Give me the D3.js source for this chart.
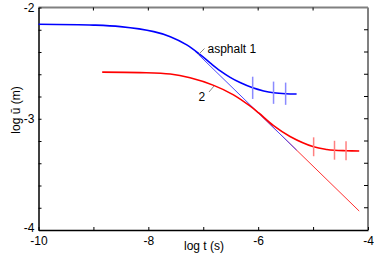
<!DOCTYPE html>
<html>
<head>
<meta charset="utf-8">
<script src="https://cdn.jsdelivr.net/npm/d3@7"></script>
<style>
  body { margin: 0; background: #fff; }
  svg text { font-family: "Liberation Sans", Arial, sans-serif; }
</style>
</head>
<body>
<div id="chart"></div>
<script>
const WIDTH = 374;
const HEIGHT = 255;

// asphalt 1 (blue)
const blueT = [-10, -9, -8.51, -7.9, -7.6, -7.3, -7.05, -6.87, -6.69, -6.51, -6.33, -6.1, -5.9, -5.72, -5.5, -5.3];
const blueU = [-2.151, -2.158, -2.172, -2.217, -2.262, -2.336, -2.426, -2.5, -2.57, -2.628, -2.675, -2.722, -2.75, -2.766, -2.775, -2.777];
const blueErrT = [-6.1, -5.72, -5.5];
const blueErrU = [-2.722, -2.766, -2.775];
const blueErr = 0.1;

// 2 (red)
const redT = [-8.84, -8.15, -7.6, -7.24, -6.81, -6.45, -6.15, -5.99, -5.72, -5.42, -4.99, -4.75, -4.61, -4.4, -4.16];
const redU = [-2.581, -2.585, -2.598, -2.632, -2.7, -2.785, -2.885, -2.948, -3.062, -3.159, -3.252, -3.276, -3.283, -3.287, -3.29];
const redErrT = [-4.99, -4.61, -4.4];
const redErrU = [-3.252, -3.283, -3.287];
const redErr = 0.085;

// short-time asymptote: blue segment, then red segment
const slopeBlueT = [-7.15, -5.3];
const slopeBlueU = [-2.393, -3.282];
const slopeRedT = [-6.0, -4.16];
const slopeRedU = [-2.946, -3.83];

const xTicks = [-10, -9, -8, -7, -6, -5, -4];
const xLabels = [-10, -8, -6, -4];
const yTicks = [-4, -3.8, -3.6, -3.4, -3.2, -3, -2.8, -2.6, -2.4, -2.2, -2];
const yLabels = [-4, -3, -2];

const svg = d3.select('#chart').append('svg').attr('width', WIDTH).attr('height', HEIGHT);

const x = d3.scaleLinear().domain([-10, -4]).range([38.5, 368]);
const y = d3.scaleLinear().domain([-4, -2]).range([230, 7.5]);

// top and right frame (gray)
svg.append('line').attr('x1', x(-10)).attr('x2', x(-4)).attr('y1', y(-2)).attr('y2', y(-2))
  .attr('stroke', '#808080').attr('stroke-width', 2);
svg.append('line').attr('x1', x(-4)).attr('x2', x(-4)).attr('y1', y(-2)).attr('y2', y(-4))
  .attr('stroke', '#808080').attr('stroke-width', 2);

// top / right inward ticks
svg.append('g').selectAll('line').data(xTicks.slice(1, -1)).enter().append('line')
  .attr('x1', (d) => x(d)).attr('x2', (d) => x(d)).attr('y1', y(-2)).attr('y2', y(-2) + 3)
  .attr('stroke', '#000');
svg.append('g').selectAll('line').data(yTicks.slice(1, -1)).enter().append('line')
  .attr('x1', x(-4) - 4).attr('x2', x(-4)).attr('y1', (d) => y(d)).attr('y2', (d) => y(d))
  .attr('stroke', '#000');

// bottom axis
const gx = svg.append('g').attr('transform', `translate(0,${y(-4)})`)
  .call(d3.axisBottom(x).tickValues(xTicks).tickSizeInner(-3).tickSizeOuter(0).tickPadding(6)
    .tickFormat((d) => (xLabels.includes(d) ? String(d) : '')));
gx.select('.domain').attr('stroke', '#000').attr('stroke-width', 1.5);
gx.selectAll('text').attr('font-size', 12).attr('fill', '#000');

// left axis
const gy = svg.append('g').attr('transform', `translate(${x(-10)},0)`)
  .call(d3.axisLeft(y).tickValues(yTicks).tickSizeInner(-3).tickSizeOuter(0).tickPadding(4)
    .tickFormat((d) => (yLabels.includes(d) ? String(d) : '')));
gy.select('.domain').attr('stroke', '#000').attr('stroke-width', 1.5);
gy.selectAll('text').attr('font-size', 12).attr('fill', '#000');
gy.selectAll('.tick').filter((d) => d === -4).select('text').attr('dy', '0.1em');

// axis titles
svg.append('text').attr('x', 204).attr('y', 250).attr('text-anchor', 'middle')
  .attr('font-size', 12).text('log t (s)');
svg.append('text').attr('transform', 'translate(20,110) rotate(-90)').attr('text-anchor', 'middle')
  .attr('font-size', 12).text('log ū (m)');

const line = d3.line().x((d) => x(d[0])).y((d) => y(d[1])).curve(d3.curveCatmullRom.alpha(0.5));

// asymptote (red part first, blue on top)
svg.append('path').datum(d3.zip(slopeRedT, slopeRedU)).attr('d', line)
  .attr('fill', 'none').attr('stroke', '#ff3030').attr('stroke-width', 1);
svg.append('path').datum(d3.zip(slopeBlueT, slopeBlueU)).attr('d', line)
  .attr('fill', 'none').attr('stroke', '#4a4aff').attr('stroke-width', 1);

// curves
svg.append('path').datum(d3.zip(redT, redU)).attr('d', line)
  .attr('fill', 'none').attr('stroke', '#ff0000').attr('stroke-width', 1.6);
svg.append('path').datum(d3.zip(blueT, blueU)).attr('d', line)
  .attr('fill', 'none').attr('stroke', '#0000ff').attr('stroke-width', 1.6);

// error bars
function errBars(ts, us, e, color) {
  svg.append('g').selectAll('line').data(d3.zip(ts, us)).enter().append('line')
    .attr('x1', (d) => x(d[0])).attr('x2', (d) => x(d[0]))
    .attr('y1', (d) => y(d[1] - e)).attr('y2', (d) => y(d[1] + e))
    .attr('stroke', color).attr('stroke-width', 1.5);
}
errBars(blueErrT, blueErrU, blueErr, '#8a8aff');
errBars(redErrT, redErrU, redErr, '#ff8080');

// labels with leader lines
svg.append('line').attr('x1', 198).attr('y1', 55).attr('x2', 204.5).attr('y2', 48.5)
  .attr('stroke', '#888').attr('stroke-width', 1);
svg.append('text').attr('x', 207.5).attr('y', 52.5).attr('font-size', 12).text('asphalt 1');

svg.append('line').attr('x1', 209).attr('y1', 92).attr('x2', 214).attr('y2', 86)
  .attr('stroke', '#888').attr('stroke-width', 1);
svg.append('text').attr('x', 198.5).attr('y', 101).attr('font-size', 12).text('2');
</script>
</body>
</html>
